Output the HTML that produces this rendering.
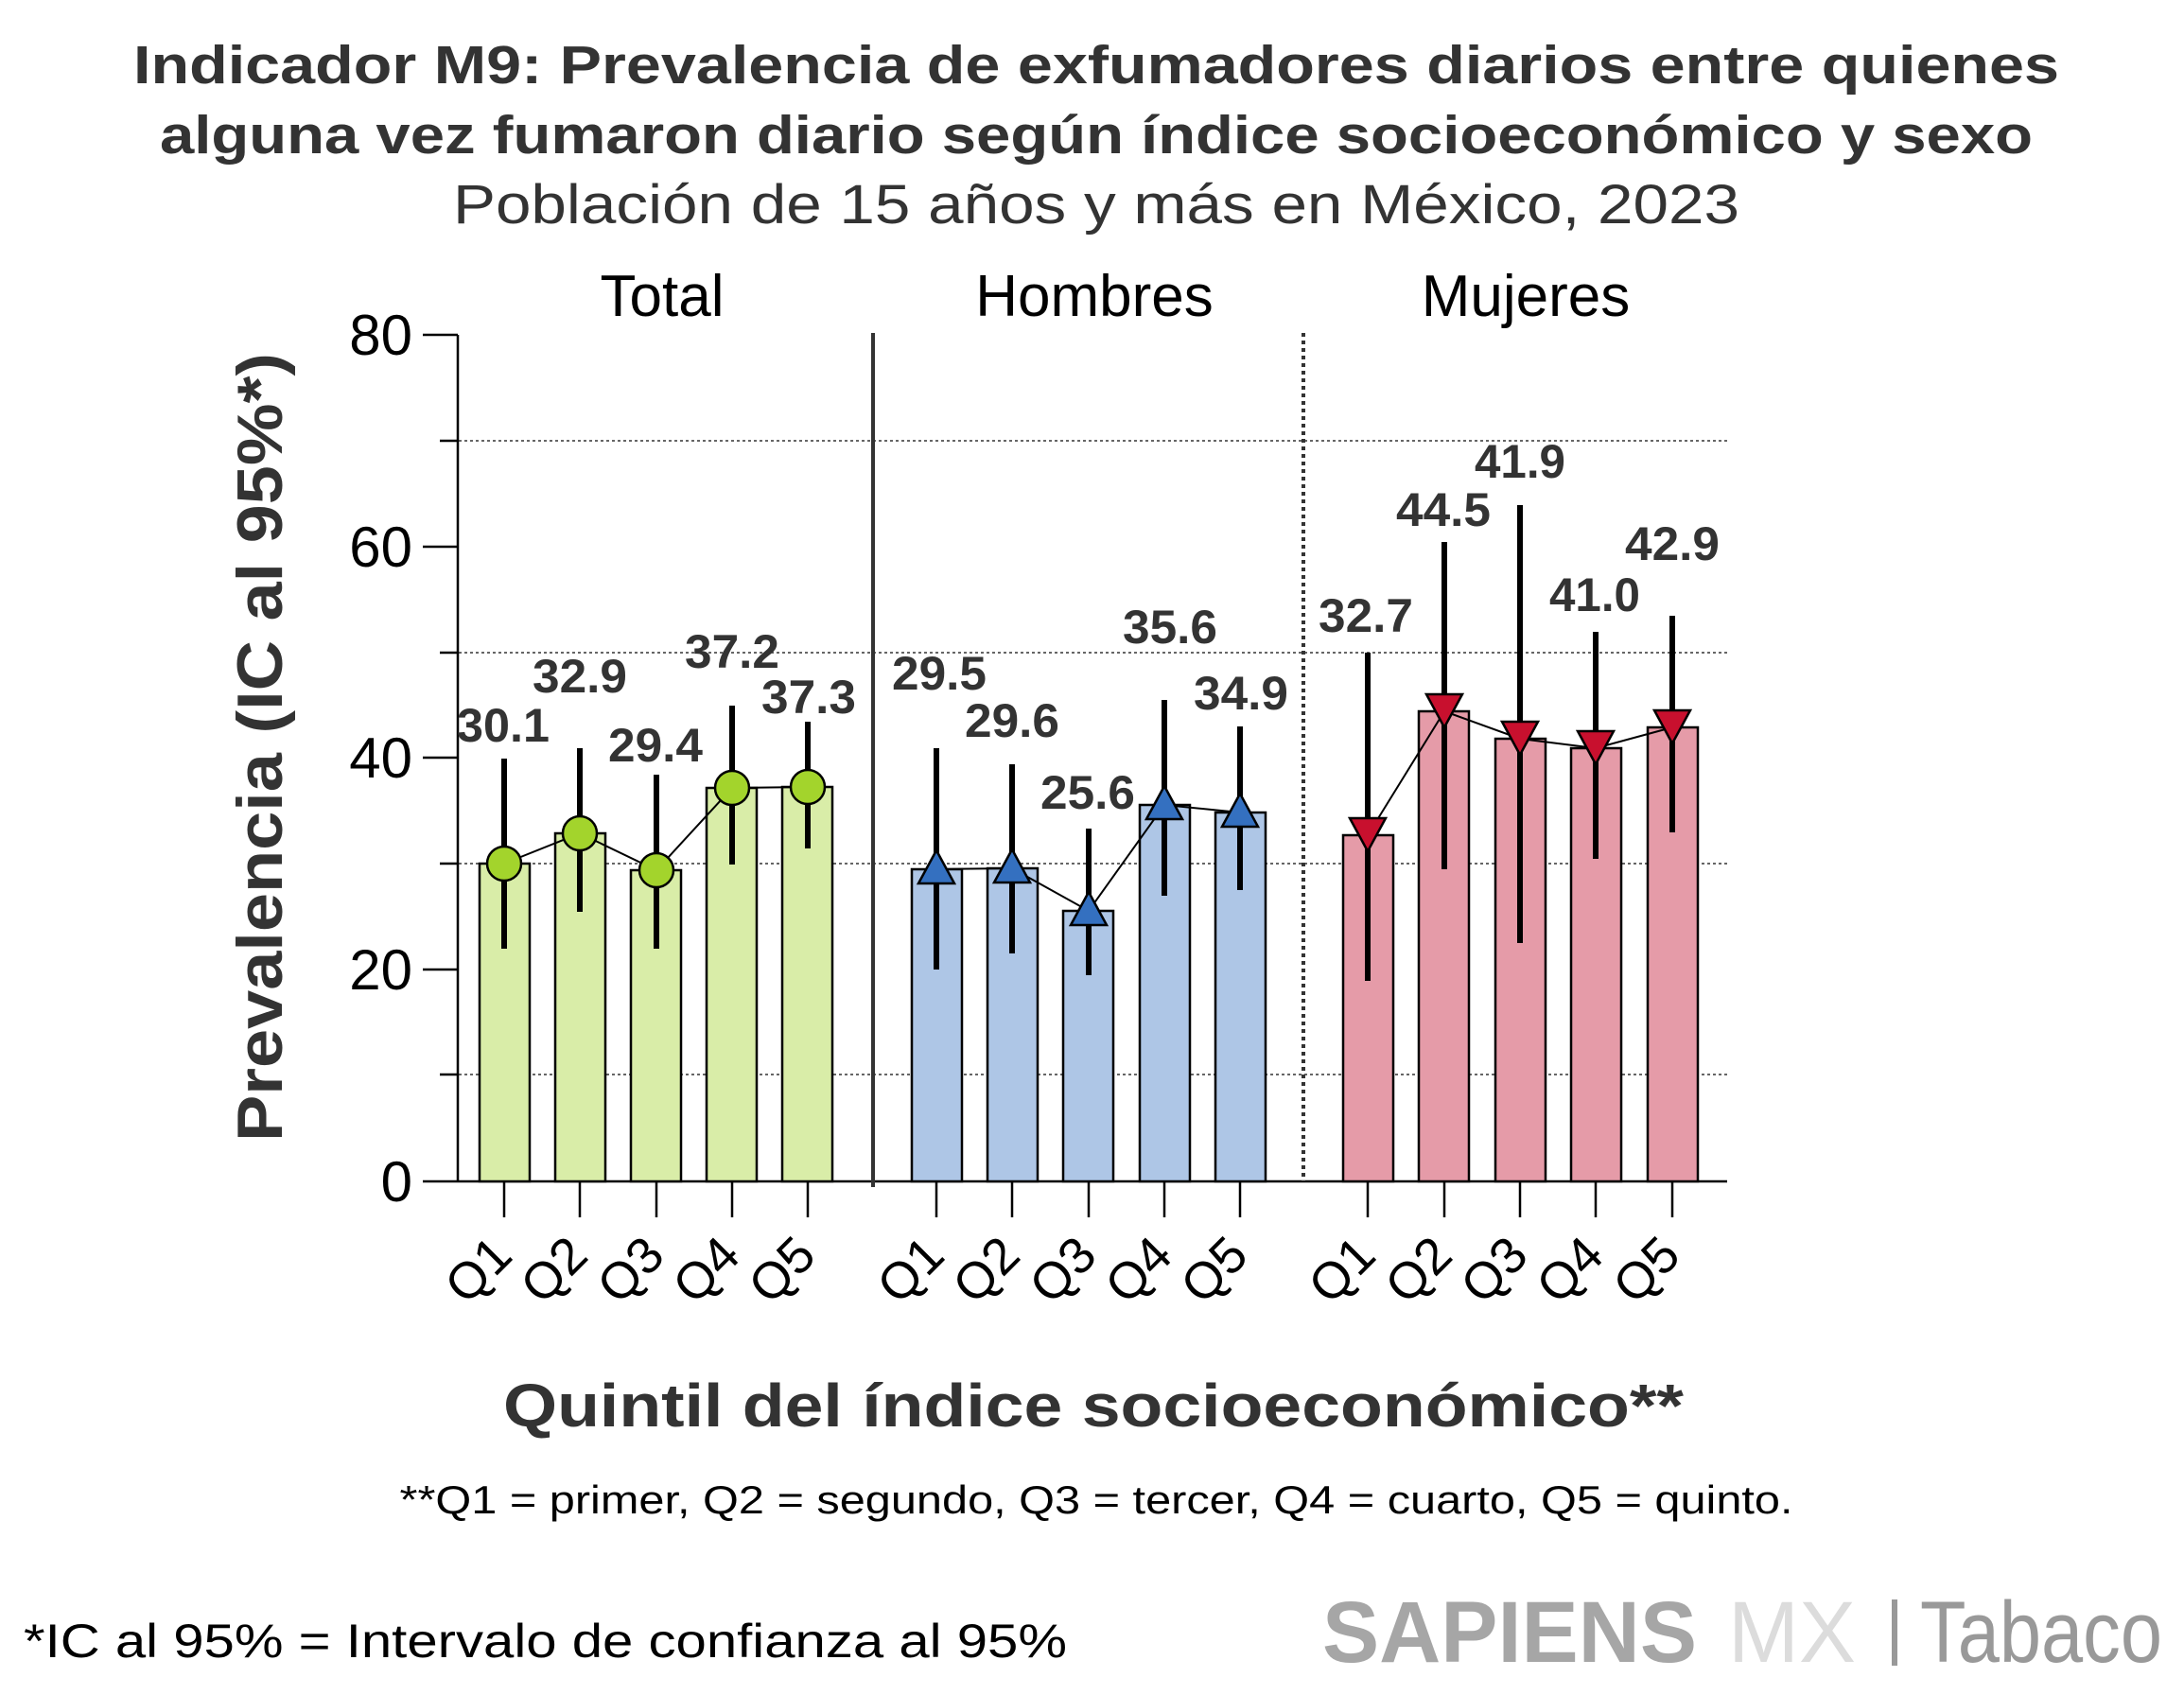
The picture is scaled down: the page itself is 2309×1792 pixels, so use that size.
<!DOCTYPE html>
<html><head><meta charset="utf-8"><style>
html,body{margin:0;padding:0;background:#fff;}
svg{display:block;}
text{font-family:"Liberation Sans",sans-serif;}
</style></head><body>
<svg width="2309" height="1792" viewBox="0 0 2309 1792" xmlns="http://www.w3.org/2000/svg">
<text x="1159" y="88" text-anchor="middle" font-size="57" font-weight="bold" fill="#333" textLength="2036" lengthAdjust="spacingAndGlyphs">Indicador M9: Prevalencia de exfumadores diarios entre quienes</text>
<text x="1159" y="162" text-anchor="middle" font-size="57" font-weight="bold" fill="#333" textLength="1980" lengthAdjust="spacingAndGlyphs">alguna vez fumaron diario según índice socioeconómico y sexo</text>
<text x="1159" y="236" text-anchor="middle" font-size="58" fill="#333" textLength="1360" lengthAdjust="spacingAndGlyphs">Población de 15 años y más en México, 2023</text>
<text x="700" y="334" text-anchor="middle" font-size="62" fill="#000">Total</text>
<text x="1157" y="334" text-anchor="middle" font-size="62" fill="#000">Hombres</text>
<text x="1613" y="334" text-anchor="middle" font-size="62" fill="#000">Mujeres</text>
<g stroke="#333" stroke-width="1.5" stroke-dasharray="3,3">
<line x1="485" y1="466" x2="1826" y2="466"/>
<line x1="485" y1="690" x2="1826" y2="690"/>
<line x1="485" y1="913" x2="1826" y2="913"/>
<line x1="485" y1="1136" x2="1826" y2="1136"/>
</g>
<g stroke="#000" stroke-width="2.5">
<line x1="484" y1="354" x2="484" y2="1249"/>
<line x1="484" y1="1249" x2="1826" y2="1249"/>
<line x1="447" y1="354" x2="484" y2="354"/>
<line x1="447" y1="578" x2="484" y2="578"/>
<line x1="447" y1="801" x2="484" y2="801"/>
<line x1="447" y1="1025" x2="484" y2="1025"/>
<line x1="447" y1="1249" x2="484" y2="1249"/>
<line x1="465" y1="466" x2="484" y2="466"/>
<line x1="465" y1="690" x2="484" y2="690"/>
<line x1="465" y1="913" x2="484" y2="913"/>
<line x1="465" y1="1136" x2="484" y2="1136"/>
</g>
<g font-size="60" fill="#000" text-anchor="end">
<text x="436" y="375">80</text>
<text x="436" y="599">60</text>
<text x="436" y="822">40</text>
<text x="436" y="1046">20</text>
<text x="436" y="1270">0</text>
</g>
<text transform="translate(298,790) rotate(-90)" text-anchor="middle" font-size="68" font-weight="bold" fill="#333" textLength="834" lengthAdjust="spacingAndGlyphs">Prevalencia (IC al 95%*)</text>
<g transform="translate(-6,0)">
<line x1="929" y1="352" x2="929" y2="1255" stroke="#333" stroke-width="4"/>
<line x1="1384" y1="352" x2="1384" y2="1249" stroke="#333" stroke-width="4" stroke-dasharray="4,4"/>
<g stroke="#000" stroke-width="2.5">
<g fill="#d9eda8">
<rect x="513" y="913" width="53" height="336"/>
<rect x="593" y="881" width="53" height="368"/>
<rect x="673" y="920" width="53" height="329"/>
<rect x="753" y="833" width="53" height="416"/>
<rect x="833" y="832" width="53" height="417"/>
</g>
<g fill="#aec6e6">
<rect x="970" y="919" width="53" height="330"/>
<rect x="1050" y="918" width="53" height="331"/>
<rect x="1130" y="963" width="53" height="286"/>
<rect x="1211" y="851" width="53" height="398"/>
<rect x="1291" y="859" width="53" height="390"/>
</g>
<g fill="#e59ba8">
<rect x="1426" y="883" width="53" height="366"/>
<rect x="1506" y="752" width="53" height="497"/>
<rect x="1587" y="781" width="53" height="468"/>
<rect x="1667" y="791" width="53" height="458"/>
<rect x="1748" y="769" width="53" height="480"/>
</g>
</g>
<g stroke="#000" stroke-width="2.5">
<line x1="539" y1="1249" x2="539" y2="1287"/><line x1="619" y1="1249" x2="619" y2="1287"/><line x1="700" y1="1249" x2="700" y2="1287"/><line x1="780" y1="1249" x2="780" y2="1287"/><line x1="860" y1="1249" x2="860" y2="1287"/>
<line x1="996" y1="1249" x2="996" y2="1287"/><line x1="1076" y1="1249" x2="1076" y2="1287"/><line x1="1157" y1="1249" x2="1157" y2="1287"/><line x1="1237" y1="1249" x2="1237" y2="1287"/><line x1="1317" y1="1249" x2="1317" y2="1287"/>
<line x1="1452" y1="1249" x2="1452" y2="1287"/><line x1="1533" y1="1249" x2="1533" y2="1287"/><line x1="1613" y1="1249" x2="1613" y2="1287"/><line x1="1693" y1="1249" x2="1693" y2="1287"/><line x1="1774" y1="1249" x2="1774" y2="1287"/>
</g>
<g stroke="#000" stroke-width="6">
<line x1="539" y1="1003" x2="539" y2="802"/>
<line x1="619" y1="964" x2="619" y2="791"/>
<line x1="700" y1="1003" x2="700" y2="819"/>
<line x1="780" y1="914" x2="780" y2="746"/>
<line x1="860" y1="897" x2="860" y2="763"/>
<line x1="996" y1="1025" x2="996" y2="791"/>
<line x1="1076" y1="1008" x2="1076" y2="808"/>
<line x1="1157" y1="1031" x2="1157" y2="876"/>
<line x1="1237" y1="947" x2="1237" y2="740"/>
<line x1="1317" y1="941" x2="1317" y2="768"/>
<line x1="1452" y1="1037" x2="1452" y2="690"/>
<line x1="1533" y1="919" x2="1533" y2="573"/>
<line x1="1613" y1="997" x2="1613" y2="534"/>
<line x1="1693" y1="908" x2="1693" y2="668"/>
<line x1="1774" y1="880" x2="1774" y2="651"/>
</g>
<g fill="none" stroke="#000" stroke-width="2">
<polyline points="539,913 619,881 700,920 780,833 860,832"/>
<polyline points="996,919 1076,918 1157,963 1237,851 1317,859"/>
<polyline points="1452,883 1533,752 1613,781 1693,791 1774,769"/>
</g>
<g fill="#a3d42c" stroke="#000" stroke-width="2.5">
<circle cx="539" cy="913" r="18"/><circle cx="619" cy="881" r="18"/><circle cx="700" cy="920" r="18"/><circle cx="780" cy="833" r="18"/><circle cx="860" cy="832" r="18"/>
</g>
<g fill="#3470c0" stroke="#000" stroke-width="2.5">
<polygon points="996,899 977,934 1015,934"/>
<polygon points="1076,898 1057,933 1095,933"/>
<polygon points="1157,943 1138,978 1176,978"/>
<polygon points="1237,831 1218,866 1256,866"/>
<polygon points="1317,839 1298,874 1336,874"/>
</g>
<g fill="#c8102e" stroke="#000" stroke-width="2.5">
<polygon points="1452,900 1433,865 1471,865"/>
<polygon points="1533,769 1514,734 1552,734"/>
<polygon points="1613,798 1594,763 1632,763"/>
<polygon points="1693,808 1674,773 1712,773"/>
<polygon points="1774,786 1755,751 1793,751"/>
</g>
<g font-size="50" font-weight="bold" fill="#333" text-anchor="middle">
<text x="538" y="784" textLength="98" lengthAdjust="spacingAndGlyphs">30.1</text>
<text x="619" y="732" textLength="100" lengthAdjust="spacingAndGlyphs">32.9</text>
<text x="699" y="805" textLength="100" lengthAdjust="spacingAndGlyphs">29.4</text>
<text x="780" y="706" textLength="100" lengthAdjust="spacingAndGlyphs">37.2</text>
<text x="861" y="754" textLength="100" lengthAdjust="spacingAndGlyphs">37.3</text>
<text x="999" y="729" textLength="100" lengthAdjust="spacingAndGlyphs">29.5</text>
<text x="1076" y="779" textLength="100" lengthAdjust="spacingAndGlyphs">29.6</text>
<text x="1156" y="855" textLength="100" lengthAdjust="spacingAndGlyphs">25.6</text>
<text x="1243" y="680" textLength="100" lengthAdjust="spacingAndGlyphs">35.6</text>
<text x="1318" y="750" textLength="100" lengthAdjust="spacingAndGlyphs">34.9</text>
<text x="1450" y="668" textLength="100" lengthAdjust="spacingAndGlyphs">32.7</text>
<text x="1532" y="556" textLength="100" lengthAdjust="spacingAndGlyphs">44.5</text>
<text x="1613" y="505" textLength="96" lengthAdjust="spacingAndGlyphs">41.9</text>
<text x="1692" y="646" textLength="96" lengthAdjust="spacingAndGlyphs">41.0</text>
<text x="1774" y="592" textLength="100" lengthAdjust="spacingAndGlyphs">42.9</text>
</g>
<g font-size="54" fill="#000" text-anchor="end">
<text transform="translate(550,1330) rotate(-45)">Q1</text>
<text transform="translate(630,1330) rotate(-45)">Q2</text>
<text transform="translate(711,1330) rotate(-45)">Q3</text>
<text transform="translate(791,1330) rotate(-45)">Q4</text>
<text transform="translate(871,1330) rotate(-45)">Q5</text>
<text transform="translate(1007,1330) rotate(-45)">Q1</text>
<text transform="translate(1087,1330) rotate(-45)">Q2</text>
<text transform="translate(1168,1330) rotate(-45)">Q3</text>
<text transform="translate(1248,1330) rotate(-45)">Q4</text>
<text transform="translate(1328,1330) rotate(-45)">Q5</text>
<text transform="translate(1463,1330) rotate(-45)">Q1</text>
<text transform="translate(1544,1330) rotate(-45)">Q2</text>
<text transform="translate(1624,1330) rotate(-45)">Q3</text>
<text transform="translate(1704,1330) rotate(-45)">Q4</text>
<text transform="translate(1785,1330) rotate(-45)">Q5</text>
</g>
</g>
<text x="1156" y="1508" text-anchor="middle" font-size="64" font-weight="bold" fill="#333" textLength="1248" lengthAdjust="spacingAndGlyphs">Quintil del índice socioeconómico**</text>
<text x="1159" y="1600" text-anchor="middle" font-size="42" fill="#000" textLength="1473" lengthAdjust="spacingAndGlyphs">**Q1 = primer, Q2 = segundo, Q3 = tercer, Q4 = cuarto, Q5 = quinto.</text>
<text x="25" y="1752" font-size="50" fill="#000" textLength="1103" lengthAdjust="spacingAndGlyphs">*IC al 95% = Intervalo de confianza al 95%</text>
<text x="1398" y="1757" font-size="92" font-weight="bold" fill="#a6a6a6" textLength="396" lengthAdjust="spacingAndGlyphs">SAPIENS</text>
<text x="1827" y="1757" font-size="92" fill="#dcdcdc" textLength="135" lengthAdjust="spacingAndGlyphs">MX</text>
<rect x="2000" y="1691" width="6" height="70" fill="#999"/>
<text x="2030" y="1757" font-size="92" fill="#999" textLength="256" lengthAdjust="spacingAndGlyphs">Tabaco</text>
</svg>
</body></html>
